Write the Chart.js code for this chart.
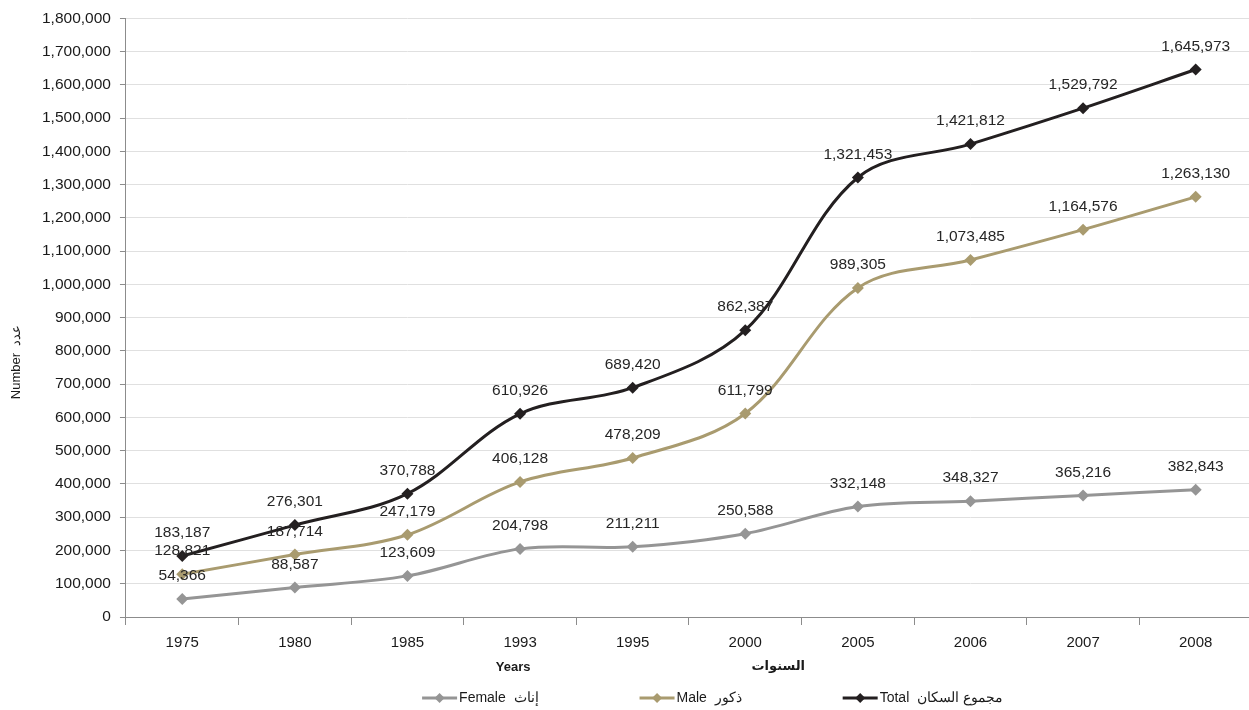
<!DOCTYPE html>
<html>
<head>
<meta charset="utf-8">
<script src="https://cdn.jsdelivr.net/npm/chart.js@4"></script>
<style>
  html, body { margin: 0; padding: 0; background: #fff; overflow: hidden; }
  #wrap { width: 1258px; height: 710px; }
</style>
</head>
<body>
<div id="wrap"><canvas id="myChart"></canvas></div>
<script>
// data
const years = ['1975', '1980', '1985', '1993', '1995', '2000', '2005', '2006', '2007', '2008'];
const femaleValues = [54366, 88587, 123609, 204798, 211211, 250588, 332148, 348327, 365216, 382843];
const maleValues = [128821, 187714, 247179, 406128, 478209, 611799, 989305, 1073485, 1164576, 1263130];
const totalValues = [183187, 276301, 370788, 610926, 689420, 862387, 1321453, 1421812, 1529792, 1645973];

const femaleColor = '#959595';
const maleColor = '#a99b6f';
const totalColor = '#231f20';

const latin = '"Liberation Sans", Arial, sans-serif';

// value labels above the points
const valueLabels = {
    id: 'valueLabels',
    afterDatasetsDraw(chart) {
        const ctx = chart.ctx;
        ctx.save();
        ctx.font = '15.5px ' + latin;
        ctx.fillStyle = '#262626';
        ctx.textAlign = 'center';
        ctx.textBaseline = 'middle';
        chart.data.datasets.forEach(function(ds, i) {
            chart.getDatasetMeta(i).data.forEach(function(pt, j) {
                ctx.fillText(ds.data[j].toLocaleString('en-US'), pt.x, pt.y - 23);
            });
        });
        ctx.restore();
    }
};

// axis titles (English + Arabic) and legend
const extraTexts = {
    id: 'extraTexts',
    afterDraw(chart) {
        const ctx = chart.ctx;
        const x = chart.scales.x;
        ctx.save();
        ctx.fillStyle = '#1a1a1a';
        ctx.textAlign = 'center';
        ctx.textBaseline = 'middle';

        // y title
        ctx.save();
        ctx.translate(16, 362);
        ctx.rotate(-Math.PI / 2);
        ctx.font = '13px ' + latin;
        ctx.fillText('Number  عدد', 0, 0);
        ctx.restore();

        ctx.font = 'bold 13px ' + latin;
        ctx.fillText('Years', x.getPixelForValue(3) - 7, 667);
        ctx.font = 'bold 13px "DejaVu Sans", "Noto Sans", sans-serif';
        ctx.fillText('السنوات', x.getPixelForValue(5) + 33, 667);

        // legend
        ctx.font = '14px ' + latin;
        ctx.textAlign = 'left';
        const markW = 35, gap = 100, y = 698;
        const items = chart.data.datasets.map(function(ds) {
            return { text: ds.label, color: ds.borderColor, w: markW + 3 + ctx.measureText(ds.label).width };
        });
        let total = items.reduce(function(s, it) { return s + it.w; }, 0) + gap * (items.length - 1);
        let cx = 713 - total / 2;
        items.forEach(function(it) {
            ctx.strokeStyle = it.color;
            ctx.fillStyle = it.color;
            ctx.lineWidth = 3;
            ctx.beginPath(); ctx.moveTo(cx, y); ctx.lineTo(cx + markW, y); ctx.stroke();
            const m = cx + markW / 2;
            ctx.beginPath(); ctx.moveTo(m, y - 5); ctx.lineTo(m + 5, y); ctx.lineTo(m, y + 5); ctx.lineTo(m - 5, y); ctx.closePath(); ctx.fill();
            ctx.fillStyle = '#1a1a1a';
            ctx.fillText(it.text, cx + markW + 2, y);
            cx += it.w + gap;
        });
        ctx.restore();
    }
};

const ctx = document.getElementById('myChart').getContext('2d');
new Chart(ctx, {
    type: 'line',
    data: {
        labels: years,
        datasets: [{
            label: 'Female  إناث',
            data: femaleValues,
            borderColor: femaleColor,
            backgroundColor: femaleColor
        }, {
            label: 'Male  ذكور',
            data: maleValues,
            borderColor: maleColor,
            backgroundColor: maleColor
        }, {
            label: 'Total  مجموع السكان',
            data: totalValues,
            borderColor: totalColor,
            backgroundColor: totalColor
        }]
    },
    options: {
        responsive: true,
        maintainAspectRatio: false,
        animation: false,
        layout: { padding: { top: 4, right: 0, left: 33, bottom: 49 } },
        elements: {
            line: { tension: 0.35, borderWidth: 3 },
            point: { pointStyle: 'rectRot', radius: 6, hoverRadius: 6, borderWidth: 0 }
        },
        plugins: {
            tooltip: { enabled: false },
            legend: { display: false }
        },
        scales: {
            x: {
                offset: true,
                grid: {
                    drawOnChartArea: false,
                    drawTicks: true,
                    tickLength: 8,
                    color: '#8c8c8c',
                    offset: true
                },
                border: { color: '#8c8c8c' },
                ticks: {
                    color: '#1a1a1a',
                    padding: 9,
                    font: { size: 15, family: latin }
                }
            },
            y: {
                min: 0,
                max: 1800000,
                ticks: {
                    stepSize: 100000,
                    color: '#1a1a1a',
                    padding: 9,
                    font: { size: 15.5, family: latin },
                    callback: function(v) { return v.toLocaleString('en-US'); }
                },
                grid: { color: '#e0e0e0', tickColor: '#8c8c8c', tickLength: 6 },
                border: { color: '#8c8c8c' }
            }
        }
    },
    plugins: [valueLabels, extraTexts]
});
</script>
</body>
</html>
